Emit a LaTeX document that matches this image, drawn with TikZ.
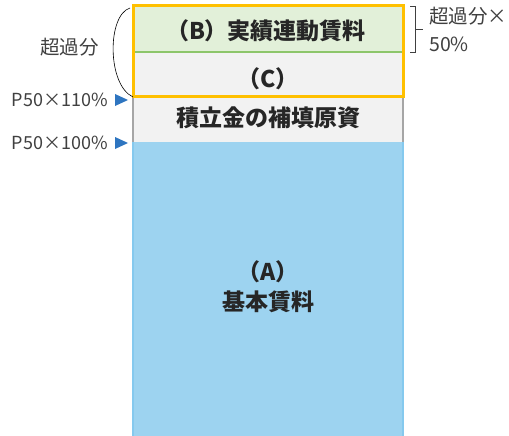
\documentclass[tikz,border=0pt]{standalone}
\usepackage{fontspec}
\usetikzlibrary{fit}
\setmainfont{Noto Sans CJK JP}
\definecolor{orng}{HTML}{FFC000}
\definecolor{grnfill}{HTML}{E2F0D9}
\definecolor{grnline}{HTML}{8DC66B}
\definecolor{gryfill}{HTML}{F2F2F2}
\definecolor{gryline}{HTML}{A6A6A6}
\definecolor{blufill}{HTML}{9DD3F0}
\definecolor{bluline}{HTML}{85C9EE}
\definecolor{tri}{HTML}{2E75C0}
\definecolor{txt}{HTML}{262626}
\definecolor{lbl}{HTML}{404040}
\begin{document}
\begin{tikzpicture}[x=1pt,y=-1pt,
  region/.style={draw=none,minimum width=270pt,inner sep=0pt,outer sep=0pt,anchor=north west},
  big/.style={font=\fontsize{23}{27}\selectfont\bfseries,text=txt},
  lab/.style={font=\fontsize{19.5}{23}\selectfont,text=lbl,inner sep=0pt},
  plab/.style={font=\fontsize{18}{22}\selectfont,text=lbl,inner sep=0pt},
  marker/.style={fill=tri,draw=none},
]
\useasboundingbox (0,0) rectangle (509,436);
% regions
\node[region,fill=blufill,minimum height=294pt] (A) at (133,142) {};
\node[region,fill=gryfill,minimum height=45pt] (R) at (133,97) {};
\node[region,fill=gryfill,minimum height=45pt] (C) at (133,52) {};
\node[region,fill=grnfill,minimum height=46pt] (B) at (133,6) {};
% borders
\draw[bluline,line width=2pt] (A.north west) -- (A.south west) (A.north east) -- (A.south east);
\draw[gryline,line width=2pt] (R.north west) -- (R.south west) (R.north east) -- (R.south east);
\draw[grnline,line width=2.5pt] (B.south west) -- (B.south east);
\node[draw=orng,line width=3pt,inner sep=0pt,fit=(B)(C)] (F) {};
% texts
\node[big] (tB) at (266,31) {（B）実績連動賃料};
\node[big] (tC) at (268,79) {（C）};
\node[big] (tR) at (268,118) {積立金の補填原資};
\node[big] (tA1) at (268,272) {（A）};
\node[big] (tA2) at (268,302) {基本賃料};
% left arc
\coordinate (a1) at (130,8);
\coordinate (a2) at (133,97);
\draw[black,line width=0.6pt] (a1) .. controls (107,15) and (107,85) .. (a2);
\node[lab,anchor=west] (ex) at (40,47) {超過分};
% markers
\node[plab,anchor=east] (p110) at (108,100) {P50×110\%};
\node[plab,anchor=east] (p100) at (108,143) {P50×100\%};
\coordinate (m1) at (128,100);
\coordinate (m2) at (128,143);
\fill[marker] (m1) -- ++(-13,-6) -- ++(0,12) -- cycle;
\fill[marker] (m2) -- ++(-13,-6) -- ++(0,12) -- cycle;
% right bracket
\coordinate (b1) at (410,6);
\coordinate (b2) at (410,52);
\draw[lbl,line width=0.8pt] (b1) -- (415,6) -- (415,52) -- (b2);
\coordinate (bt) at (423,29);
\draw[lbl,line width=0.8pt] (415,29) -- (bt);
\node[lab,anchor=west] (r1) at (429,16) {超過分×};
\node[lab,anchor=west] (r2) at (429,44) {50\%};
\end{tikzpicture}
\end{document}
